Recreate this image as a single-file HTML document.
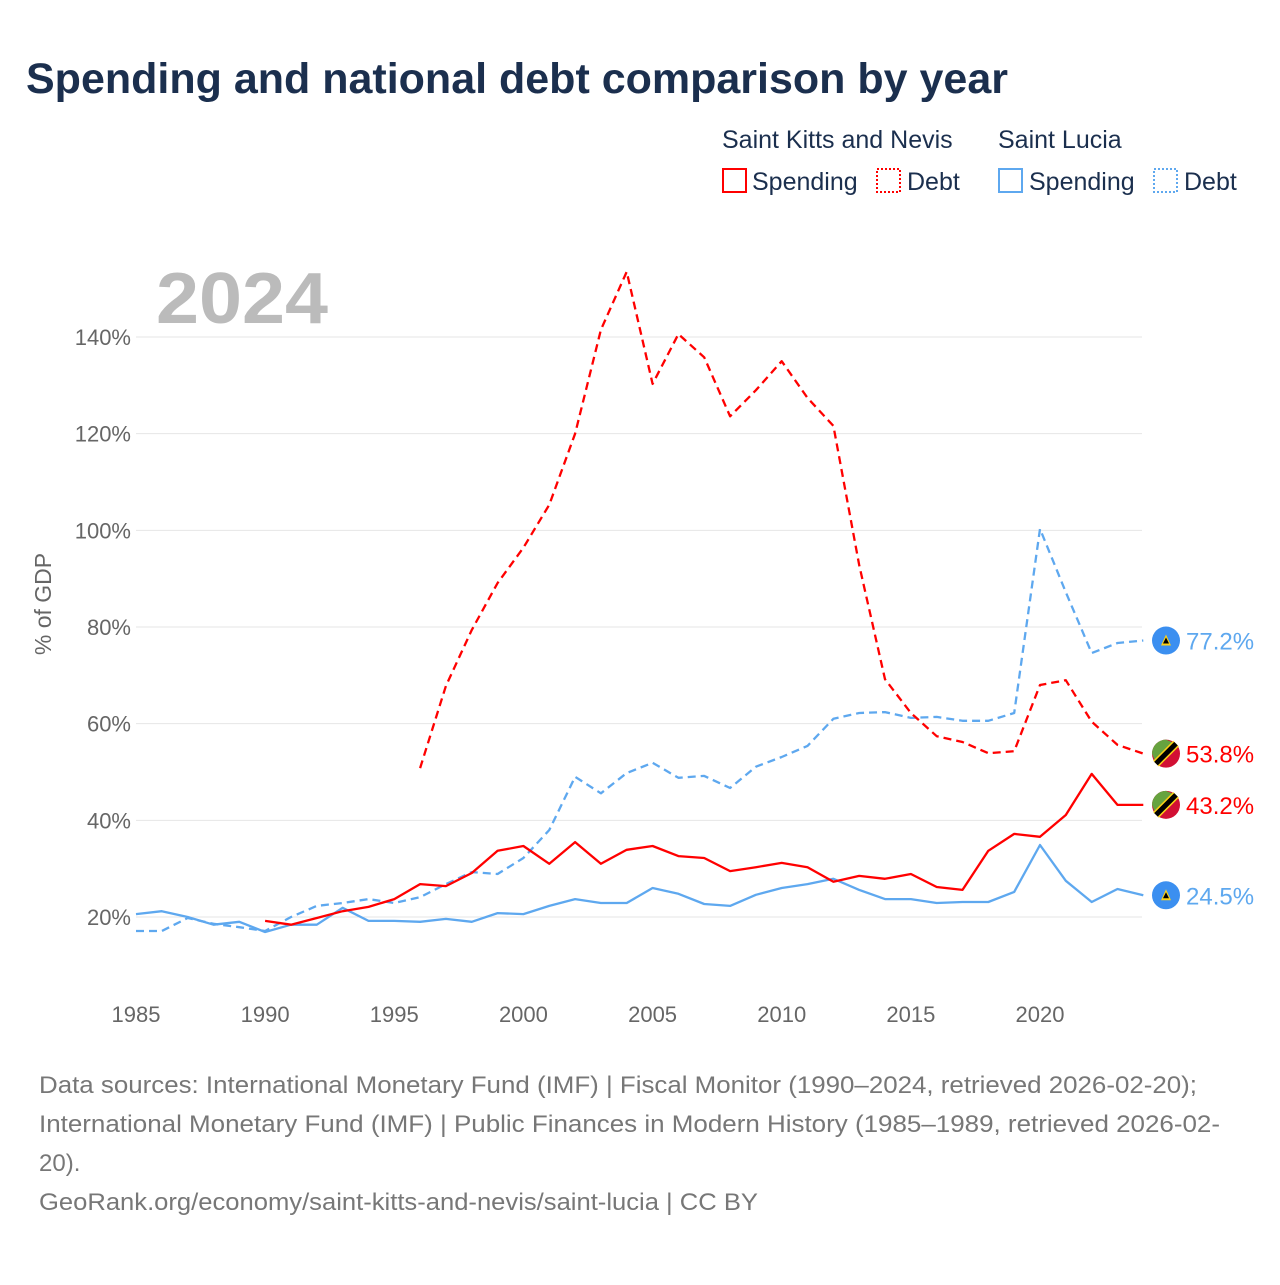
<!DOCTYPE html>
<html><head><meta charset="utf-8"><style>
body{margin:0;background:#fff;font-family:"Liberation Sans",sans-serif;}
svg text{font-family:"Liberation Sans",sans-serif;}
</style></head><body>
<svg id="chart" width="1280" height="1280" xmlns="http://www.w3.org/2000/svg">
<rect width="1280" height="1280" fill="#fff"/>
<text x="26" y="93" font-size="43" font-weight="bold" fill="#1b2f4e" textLength="982" lengthAdjust="spacingAndGlyphs">Spending and national debt comparison by year</text>
<g font-size="25" fill="#1b2f4e">
<text x="722" y="148" fill="#1b2f4e">Saint Kitts and Nevis</text>
<text x="998" y="148" fill="#1b2f4e">Saint Lucia</text>
<rect x="723" y="169" width="23" height="23" fill="none" stroke="#f00" stroke-width="2"/>
<text x="752" y="190" fill="#1b2f4e">Spending</text>
<rect x="877" y="169" width="23" height="23" fill="none" stroke="#f00" stroke-width="2" stroke-dasharray="2,2"/>
<text x="907" y="190" fill="#1b2f4e">Debt</text>
<rect x="999" y="169" width="23" height="23" fill="none" stroke="#5ea8ef" stroke-width="2"/>
<text x="1029" y="190" fill="#1b2f4e">Spending</text>
<rect x="1154" y="169" width="23" height="23" fill="none" stroke="#5ea8ef" stroke-width="2" stroke-dasharray="2,2"/>
<text x="1184" y="190" fill="#1b2f4e">Debt</text>
</g>
<text x="156" y="323" font-size="72" font-weight="bold" fill="#bbb" textLength="172" lengthAdjust="spacingAndGlyphs">2024</text>
<text transform="translate(51,604) rotate(-90)" text-anchor="middle" font-size="23" fill="#666">% of GDP</text>
<g id="grid"></g>
<g id="series"></g>
<g id="ends"></g>
<g font-size="24" fill="#777">
<text x="39" y="1093" textLength="1158" lengthAdjust="spacingAndGlyphs">Data sources: International Monetary Fund (IMF) | Fiscal Monitor (1990–2024, retrieved 2026-02-20);</text>
<text x="39" y="1132" textLength="1181" lengthAdjust="spacingAndGlyphs">International Monetary Fund (IMF) | Public Finances in Modern History (1985–1989, retrieved 2026-02-</text>
<text x="39" y="1171">20).</text>
<text x="39" y="1210" textLength="719" lengthAdjust="spacingAndGlyphs">GeoRank.org/economy/saint-kitts-and-nevis/saint-lucia | CC BY</text>
</g>
</svg>
<script>
const yTicks=[20,40,60,80,100,120,140];
const xTicks=[1985,1990,1995,2000,2005,2010,2015,2020];
const lcSpendStart=1985;
const lcSpending=[20.6,21.2,20.0,18.4,19.0,16.9,18.4,18.4,21.9,19.2,19.2,19.0,19.6,19.0,20.8,20.6,22.3,23.7,22.9,22.9,26.0,24.8,22.7,22.3,24.6,26.0,26.8,27.9,25.6,23.7,23.7,22.9,23.1,23.1,25.2,34.9,27.5,23.1,25.8,24.5];
const lcDebtStart=1985;
const lcDebt=[17.1,17.1,19.8,18.6,17.9,17.1,20.0,22.3,22.9,23.7,22.9,24.1,26.8,29.3,28.9,32.2,38.0,49.0,45.6,49.8,51.9,48.8,49.2,46.7,51.1,53.1,55.4,61.0,62.2,62.4,61.2,61.4,60.6,60.6,62.2,100.3,87.2,74.6,76.7,77.2];
const sknSpendStart=1990;
const sknSpending=[19.2,18.4,19.8,21.2,22.1,23.7,26.8,26.4,29.1,33.7,34.7,31.0,35.5,31.0,33.9,34.7,32.6,32.2,29.5,30.3,31.2,30.3,27.3,28.5,27.9,28.9,26.2,25.6,33.7,37.2,36.6,41.1,49.6,43.2,43.2];
const sknDebtStart=1996;
const sknDebt=[50.8,67.8,79.4,89.1,96.4,105.3,120.0,141.5,153.5,130.3,140.6,135.8,123.6,129.0,135.0,127.4,121.6,92.8,69.2,62.2,57.4,56.2,53.9,54.3,68.0,69.0,60.4,55.6,53.8];

const X=yr=>136+(yr-1985)*(1040-136)/35;
const Y=v=>1013.67-v*4.8333;
const NS="http://www.w3.org/2000/svg";
function mk(tag,attrs,parent){const e=document.createElementNS(NS,tag);for(const k in attrs)e.setAttribute(k,attrs[k]);parent.appendChild(e);return e;}
const grid=document.getElementById('grid');
yTicks.forEach(t=>{
  const l=mk('line',{x1:136,x2:1142,y1:Y(t),y2:Y(t),stroke:'#e6e6e6','stroke-width':1},grid);
  
  
  const tx=mk('text',{x:131,y:Y(t)+8,'text-anchor':'end','font-size':22,fill:'#666'},grid);
  
  
  tx.textContent=t+'%';
});
xTicks.forEach(t=>{
  const tx=mk('text',{x:X(t),y:1022,'text-anchor':'middle','font-size':22,fill:'#666'},grid);
  
  
  tx.textContent=t;
});
const ser=document.getElementById('series');
function line(arr,start,color,dash,name){
  const d=arr.map((v,i)=>(i?'L':'M')+X(start+i).toFixed(1)+','+Y(v).toFixed(1)).join(' ');
  const p=mk('path',{d:d,fill:'none',stroke:color,'stroke-width':2.3,'stroke-linejoin':'round'},ser);
  if(dash)p.setAttribute('stroke-dasharray','8,5');
  
  
}
line(lcDebt,lcDebtStart,'#5ea8ef',true,'saint-lucia-debt-line');
line(lcSpending,lcSpendStart,'#5ea8ef',false,'saint-lucia-spending-line');
line(sknDebt,sknDebtStart,'#f00',true,'skn-debt-line');
line(sknSpending,sknSpendStart,'#f00',false,'skn-spending-line');
const ends=document.getElementById('ends');
function endLabel(v,color,flag,name){
  const y=Y(v);
  const g=mk('g',{},ends);
  
  
  if(flag==='lc'){
    mk('circle',{cx:1166,cy:y,r:14,fill:'#3b8ff0'},g);
    mk('polygon',{points:`1166,${y-6} 1171,${y+5} 1161,${y+5}`,fill:'#fcd116'},g);
    mk('polygon',{points:`1166,${y-3} 1169,${y+3} 1163,${y+3}`,fill:'#000'},g);
  }else{
    mk('circle',{cx:1166,cy:y,r:14,fill:'#d21034'},g);
    mk('path',{d:`M1152,${y} A14,14 0 0 1 1166,${y-14} L1176,${y-10} L1156,${y+10} Z`,fill:'#66a33f'},g);
    mk('line',{x1:1176,y1:y-10,x2:1156,y2:y+10,stroke:'#fcd116','stroke-width':8},g);
    mk('line',{x1:1176,y1:y-10,x2:1156,y2:y+10,stroke:'#000','stroke-width':5},g);
  }
  const t=mk('text',{x:1186,y:y+9,'font-size':24,fill:color},g);
  t.textContent=v.toFixed(1)+'%';
}
endLabel(lcDebt[lcDebt.length-1],'#5ea8ef','lc','end-label-lc-debt');
endLabel(sknDebt[sknDebt.length-1],'#f00','skn','end-label-skn-debt');
endLabel(sknSpending[sknSpending.length-1],'#f00','skn','end-label-skn-spending');
endLabel(lcSpending[lcSpending.length-1],'#5ea8ef','lc','end-label-lc-spending');
</script>
</body></html>
